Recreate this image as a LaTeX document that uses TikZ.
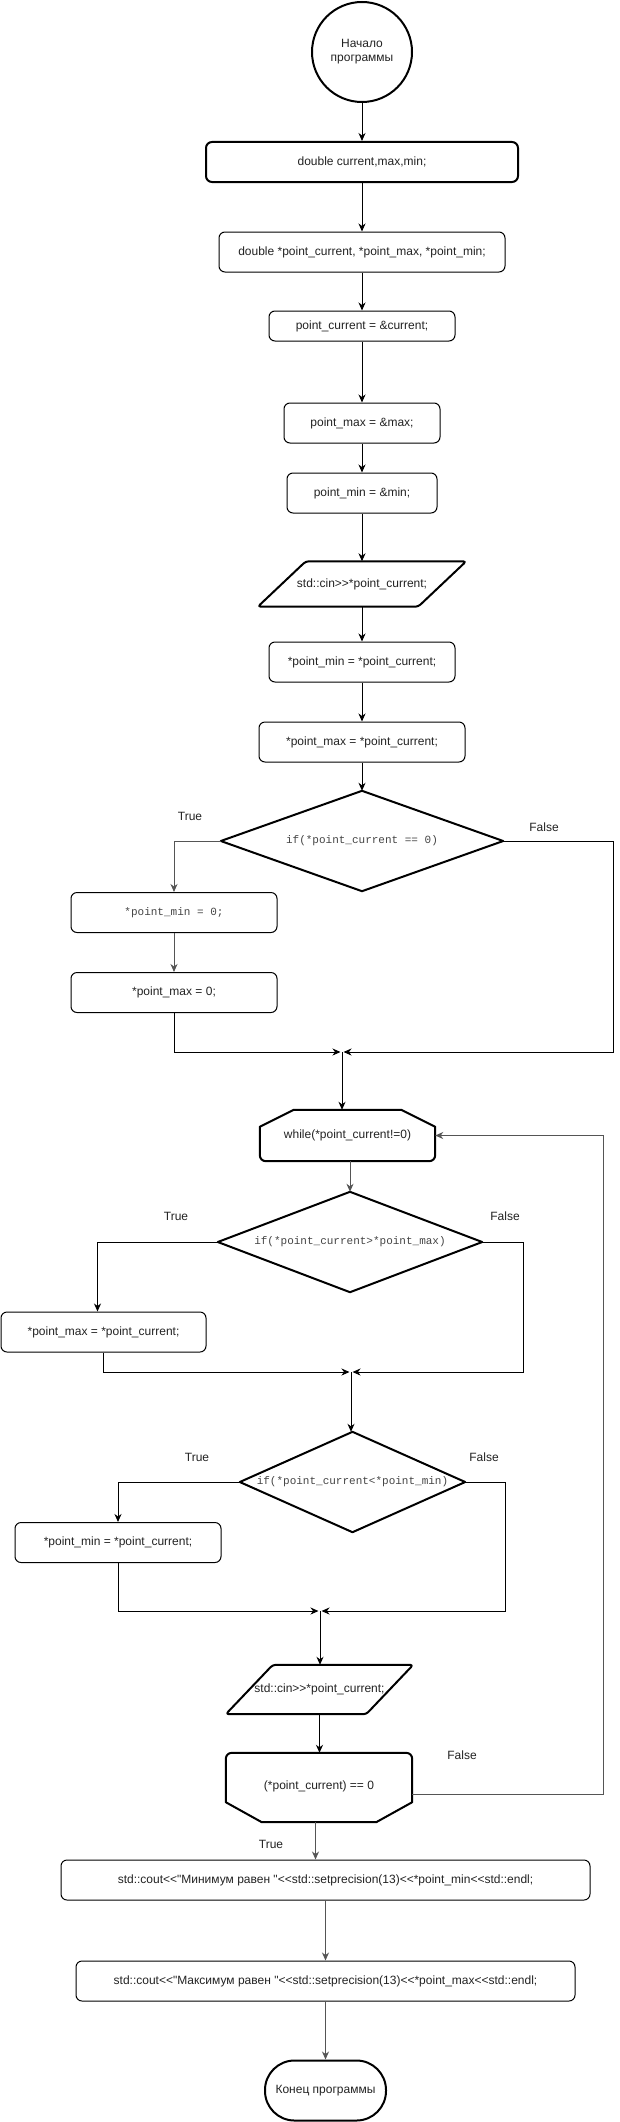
\documentclass[tikz,border=0pt]{standalone}
\usepackage{fontspec}
\newfontfamily\dsans{Liberation Sans}
\newfontfamily\dmono{Liberation Mono}
\usetikzlibrary{arrows.meta}
\definecolor{txt}{HTML}{222222}
\definecolor{mtxt}{HTML}{444444}
\definecolor{lgray}{HTML}{555555}
\begin{document}
\begin{tikzpicture}[x=1pt,y=-1pt,
  every node/.style={font=\dsans\fontsize{12}{14}\selectfont, text=txt},
  box/.style={draw, rounded corners=6pt, line width=1pt, inner sep=0pt, align=center},
  boldbox/.style={box, line width=2pt},
  ghost/.style={draw=none, inner sep=0pt, align=center},
  monotext/.style={font=\dmono\fontsize{11}{13}\selectfont, text=mtxt},
  shapeline/.style={line width=2pt, line join=round},
  arr/.style={line width=1pt, -{Stealth[length=8pt,width=7pt,inset=2.5pt]}},
  garr/.style={arr, draw=lgray},
  lbl/.style={inner sep=0pt}
]
\useasboundingbox (0,0) rectangle (619,2122);

% top part
\node[circle, draw, line width=2pt, minimum size=100pt, inner sep=0pt, align=center] (start) at (362,52) {Начало\\программы};
\node[boldbox, minimum width=312pt, minimum height=40pt] (b1) at (362,162) {double current,max,min;};
\node[box, minimum width=286pt, minimum height=40pt] (b2) at (362,252) {double *point\_current, *point\_max, *point\_min;};
\node[box, minimum width=186pt, minimum height=30pt] (b3) at (362,326) {point\_current = \&current;};
\node[box, minimum width=156pt, minimum height=40pt] (b4) at (362,423) {point\_max = \&max;};
\node[box, minimum width=150pt, minimum height=40pt] (b5) at (362,493) {point\_min = \&min;};
\node[ghost, minimum width=208pt, minimum height=45pt] (p1) at (362,584) {std::cin>>*point\_current;};
\draw[shapeline, rounded corners=3pt] ([xshift=48pt]p1.north west) -- (p1.north east) -- ([xshift=-48pt]p1.south east) -- (p1.south west) -- cycle;
\node[box, minimum width=186pt, minimum height=40pt] (b6) at (362,662) {*point\_min = *point\_current;};
\node[box, minimum width=206pt, minimum height=40pt] (b7) at (362,742) {*point\_max = *point\_current;};
\node[ghost, monotext, minimum width=282pt, minimum height=100pt] (d1) at (362,841) {if(*point\_current == 0)};
\draw[shapeline] (d1.north) -- (d1.east) -- (d1.south) -- (d1.west) -- cycle;
\node[lbl] (t1) at (190,816) {True};
\node[lbl] (fl1) at (544,827) {False};
\node[box, monotext, minimum width=206pt, minimum height=40pt] (b8) at (174,912.5) {*point\_min = 0;};
\node[box, minimum width=206pt, minimum height=40pt] (b9) at (174,992.5) {*point\_max = 0;};
\coordinate (m1) at (342,1052);
\coordinate (f1) at (613,1052);

% loop
\node[ghost, minimum width=175pt, minimum height=51pt] (w) at (347.5,1135.5) {while(*point\_current!=0)};
\draw[shapeline] ([yshift=-17pt]w.north west) -- ([xshift=34pt]w.north west) -- ([xshift=-34pt]w.north east) -- ([yshift=-17pt]w.north east) [rounded corners=6pt] -- (w.south east) -- (w.south west) [sharp corners] -- cycle;
\node[ghost, monotext, minimum width=264pt, minimum height=100pt] (d2) at (350,1242) {if(*point\_current>*point\_max)};
\draw[shapeline] (d2.north) -- (d2.east) -- (d2.south) -- (d2.west) -- cycle;
\node[lbl] (t2) at (176,1216) {True};
\node[lbl] (fl2) at (505,1216) {False};
\node[box, minimum width=205pt, minimum height=40pt] (b10) at (103.5,1332) {*point\_max = *point\_current;};
\coordinate (m2) at (351,1372);
\coordinate (f2) at (523,1372);
\node[ghost, monotext, minimum width=225pt, minimum height=100pt] (d3) at (352.5,1482) {if(*point\_current<*point\_min)};
\draw[shapeline] (d3.north) -- (d3.east) -- (d3.south) -- (d3.west) -- cycle;
\node[lbl] (t3) at (197,1457) {True};
\node[lbl] (fl3) at (484,1457) {False};
\node[box, minimum width=206pt, minimum height=40pt] (b11) at (118,1542.5) {*point\_min = *point\_current;};
\coordinate (m3) at (320,1611);
\coordinate (f3) at (505,1611);
\node[ghost, minimum width=187pt, minimum height=49pt] (p2) at (319.5,1689.5) {std::cin>>*point\_current;};
\draw[shapeline, rounded corners=3pt] ([xshift=47pt]p2.north west) -- (p2.north east) -- ([xshift=-47pt]p2.south east) -- (p2.south west) -- cycle;
\node[ghost, minimum width=186pt, minimum height=69pt] (c) at (319,1787.5) {\raisebox{4pt}{(*point\_current) == 0}};
\draw[shapeline] ([yshift=20pt]c.south west) [rounded corners=6pt] -- (c.north west) -- (c.north east) [sharp corners] -- ([yshift=20pt]c.south east) -- ([xshift=-36pt]c.south east) -- ([xshift=36pt]c.south west) -- cycle;
\node[lbl] (fl4) at (462,1755) {False};
\coordinate (f4) at (603,1135.5);
\node[lbl] (t4) at (271,1844) {True};

% bottom
\node[box, minimum width=529pt, minimum height=40pt] (b12) at (325.5,1880) {std::cout<<"Минимум равен "<<std::setprecision(13)<<*point\_min<<std::endl;};
\node[box, minimum width=499pt, minimum height=40pt] (b13) at (325.5,1981) {std::cout<<"Максимум равен "<<std::setprecision(13)<<*point\_max<<std::endl;};
\node[draw, line width=2pt, rounded corners=29.5pt, minimum width=121pt, minimum height=60pt, inner sep=0pt] (end) at (325.5,2090.5) {Конец программы};

% connectors
\draw[arr] (start) -- (b1);
\draw[arr] (b1) -- (b2);
\draw[arr] (b2) -- (b3);
\draw[arr] (b3) -- (b4);
\draw[arr] (b4) -- (b5);
\draw[arr] (b5) -- (p1);
\draw[arr] (p1) -- (b6);
\draw[arr] (b6) -- (b7);
\draw[arr] (b7) -- (d1.north);
\draw[garr] (d1.west) -| (b8.north);
\draw[garr] (b8) -- (b9);
\draw[arr, shorten >=1.5pt] (b9.south) |- (m1);
\draw[arr, shorten >=1.5pt] (d1.east) -| (f1) -- (m1);
\draw[arr] (m1) -- (m1 |- w.north);
\draw[garr] (d2.north |- w.south) -- (d2.north);
\draw[arr] (d2.west) -| ([xshift=-6pt]b10.north);
\draw[arr, shorten >=1.5pt] (b10.south) |- (m2);
\draw[arr, shorten >=1.5pt] (d2.east) -| (f2) -- (m2);
\draw[arr] (m2) -- (m2 |- d3.north);
\draw[arr] (d3.west) -| (b11.north);
\draw[arr, shorten >=1.5pt] (b11.south) |- (m3);
\draw[arr, shorten >=1.5pt] (d3.east) -| (f3) -- (m3);
\draw[arr] (m3) -- (m3 |- p2.north);
\draw[arr] (p2.south) -- (p2.south |- c.north);
\draw[garr] ([yshift=-6.5pt]c.east) -| (f4) -- (w.east);
\draw[garr] ([xshift=-3.5pt]c.south) -- ([xshift=-3.5pt]c.south |- b12.north);
\draw[garr] (b13.north |- b12.south) -- (b13.north);
\draw[garr] (b13) -- (end);
\end{tikzpicture}
\end{document}
